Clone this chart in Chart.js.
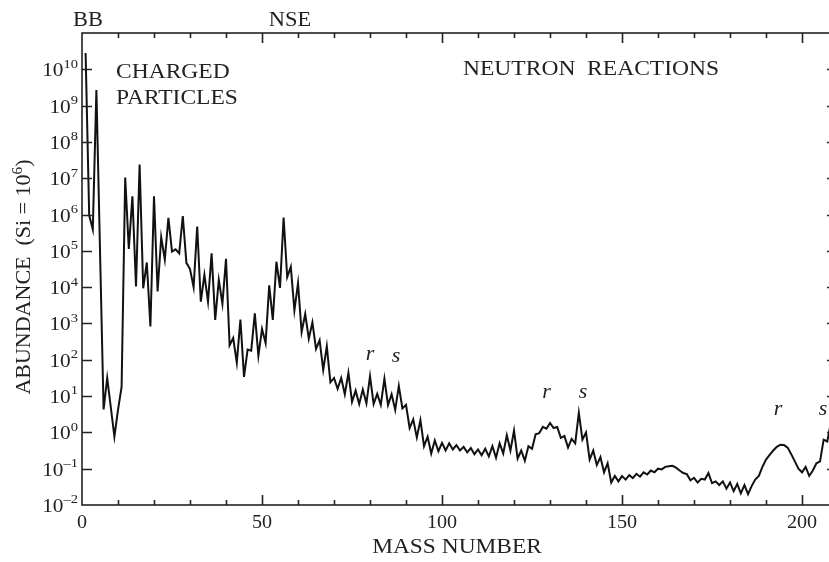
<!DOCTYPE html>
<html>
<head>
<meta charset="utf-8">
<script src="https://cdn.jsdelivr.net/npm/chart.js@4"></script>
<style>
  html, body { margin: 0; padding: 0; background: #fff; overflow: hidden; }
  #wrap { width: 836px; height: 562px; }
</style>
</head>
<body>
<div id="wrap"><canvas id="chart" width="836" height="562"></canvas></div>
<script>
// mass numbers (A = 5 and 8 have no stable nuclei)
const massNumbers = [
  1, 2, 3, 4, 6, 7, 9, 10, 11, 12, 13, 14, 15, 16, 17, 18, 19, 20,
  21, 22, 23, 24, 25, 26, 27, 28, 29, 30, 31, 32, 33, 34, 35, 36, 37, 38, 39, 40,
  41, 42, 43, 44, 45, 46, 47, 48, 49, 50, 51, 52, 53, 54, 55, 56, 57, 58, 59, 60,
  61, 62, 63, 64, 65, 66, 67, 68, 69, 70, 71, 72, 73, 74, 75, 76, 77, 78, 79, 80,
  81, 82, 83, 84, 85, 86, 87, 88, 89, 90, 91, 92, 93, 94, 95, 96, 97, 98, 99, 100,
  101, 102, 103, 104, 105, 106, 107, 108, 109, 110, 111, 112, 113, 114, 115, 116, 117, 118, 119, 120,
  121, 122, 123, 124, 125, 126, 127, 128, 129, 130, 131, 132, 133, 134, 135, 136, 137, 138, 139, 140,
  141, 142, 143, 144, 145, 146, 147, 148, 149, 150, 151, 152, 153, 154, 155, 156, 157, 158, 159, 160,
  161, 162, 163, 164, 165, 166, 167, 168, 169, 170, 171, 172, 173, 174, 175, 176, 177, 178, 179, 180,
  181, 182, 183, 184, 185, 186, 187, 188, 189, 190, 191, 192, 193, 194, 195, 196, 197, 198, 199, 200,
  201, 202, 203, 204, 205, 206, 207, 208
];

// log10 of abundance (Si = 10^6), same order as massNumbers
const logAbundance = [
  10.45, 5.98, 5.59, 9.43, 0.63, 1.5, -0.12, 0.62, 1.25, 7.02, 5.05, 6.5, 4.02, 7.38, 3.97, 4.68, 2.92, 6.5,
  3.88, 5.38, 4.76, 5.91, 4.98, 5.04, 4.93, 5.96, 4.67, 4.5, 4.0, 5.67, 3.6, 4.34, 3.6, 4.93, 3.1, 4.2, 3.54, 4.78,
  2.4, 2.6, 1.92, 3.11, 1.53, 2.28, 2.25, 3.28, 2.11, 2.85, 2.46, 4.05, 3.1, 4.7, 3.98, 5.92, 4.28, 4.56, 3.36, 4.11,
  2.76, 3.26, 2.58, 3.03, 2.3, 2.54, 1.72, 2.37, 1.38, 1.5, 1.2, 1.5, 1.05, 1.64, 0.84, 1.15, 0.78, 1.18, 0.8, 1.55,
  0.78, 1.06, 0.76, 1.48, 0.75, 1.05, 0.62, 1.28, 0.66, 0.76, 0.12, 0.36, -0.14, 0.34, -0.38, -0.12, -0.58, -0.22, -0.52, -0.29,
  -0.5, -0.3, -0.47, -0.35, -0.5, -0.4, -0.55, -0.43, -0.6, -0.47, -0.63, -0.45, -0.66, -0.38, -0.7, -0.3, -0.58, -0.08, -0.5, 0.05,
  -0.72, -0.5, -0.78, -0.38, -0.45, -0.05, -0.02, 0.15, 0.1, 0.26, 0.12, 0.15, -0.15, -0.1, -0.42, -0.18, -0.3, 0.54, -0.2, 0.0,
  -0.75, -0.5, -0.9, -0.68, -1.1, -0.85, -1.38, -1.2, -1.35, -1.2, -1.3, -1.18, -1.26, -1.14, -1.22, -1.1, -1.16, -1.05, -1.1, -1.0,
  -1.02, -0.95, -0.93, -0.92, -0.97, -1.05, -1.12, -1.15, -1.32, -1.25, -1.38, -1.28, -1.3, -1.12, -1.4, -1.35, -1.45, -1.35, -1.55, -1.38,
  -1.62, -1.42, -1.68, -1.45, -1.7, -1.48, -1.3, -1.2, -0.95, -0.75, -0.62, -0.5, -0.4, -0.34, -0.35, -0.42, -0.6, -0.8, -1.0, -1.1,
  -0.95, -1.2, -1.05, -0.85, -0.8, -0.2, -0.25, 0.26
];

const xTickValues = [0, 50, 100, 150, 200];
const yTickExponents = [-2, -1, 0, 1, 2, 3, 4, 5, 6, 7, 8, 9, 10];

const SERIF = '"Liberation Serif", "DejaVu Serif", serif';
const INK = '#222';
const STRETCH = 1.12; // the source lettering is a bit wider than Liberation Serif

// text squeezed/stretched horizontally around its anchor
const wideText = (ctx, text, x, y, align = 'left', sx = STRETCH) => {
  ctx.save();
  ctx.translate(x, y);
  ctx.scale(sx, 1);
  ctx.textAlign = align;
  ctx.fillText(text, 0, 0);
  ctx.restore();
};

const drawPow = (ctx, xRight, yMid, exp, size) => {
  // "10" with a raised exponent, right aligned at xRight
  const supSize = Math.round(size * 0.68);
  const expText = String(exp).replace('-', '\u2013');
  ctx.save();
  ctx.translate(xRight, yMid);
  ctx.scale(STRETCH, 1);
  ctx.font = `${supSize}px ${SERIF}`;
  const supW = ctx.measureText(expText).width;
  ctx.font = `${size}px ${SERIF}`;
  const baseW = ctx.measureText('10').width;
  ctx.textAlign = 'left';
  ctx.textBaseline = 'middle';
  ctx.fillText('10', -supW - baseW, 2);
  ctx.font = `${supSize}px ${SERIF}`;
  ctx.fillText(expText, -supW, -5);
  ctx.restore();
};

const decorPlugin = {
  id: 'decor',
  afterDraw(chart) {
    const { ctx, chartArea: a, scales: { x, y } } = chart;
    ctx.save();
    ctx.strokeStyle = INK;
    ctx.lineWidth = 1.6;
    ctx.strokeRect(a.left, a.top, a.right - a.left, a.bottom - a.top);

    // x ticks, inward on bottom and top
    ctx.beginPath();
    for (let v = 10; v <= 200; v += 10) {
      const px = Math.round(x.getPixelForValue(v)) + 0.5;
      const len = v % 50 === 0 ? 10 : 5;
      ctx.moveTo(px, a.bottom); ctx.lineTo(px, a.bottom - len);
      ctx.moveTo(px, a.top); ctx.lineTo(px, a.top + len);
    }
    // y ticks at decades
    for (let e = -1; e <= 10; e++) {
      const py = Math.round(y.getPixelForValue(Math.pow(10, e))) + 0.5;
      ctx.moveTo(a.left, py); ctx.lineTo(a.left + 10, py);
      ctx.moveTo(a.right, py); ctx.lineTo(a.right - 6, py);
    }
    ctx.stroke();

    ctx.fillStyle = INK;

    // y tick labels
    yTickExponents.forEach(e => {
      drawPow(ctx, a.left - 4, y.getPixelForValue(Math.pow(10, e)), e, 19);
    });

    // x tick labels and title
    ctx.textBaseline = 'middle';
    ctx.font = `19px ${SERIF}`;
    xTickValues.forEach(v => wideText(ctx, String(v), x.getPixelForValue(v), a.bottom + 18, 'center', 1.06));
    ctx.font = `20px ${SERIF}`;
    wideText(ctx, 'MASS NUMBER', 457, 548, 'center', 1.17);

    // y axis title
    ctx.save();
    ctx.translate(25, 277);
    ctx.rotate(-Math.PI / 2);
    ctx.scale(1.1, 1);
    ctx.font = `20px ${SERIF}`;
    const t1 = 'ABUNDANCE  (Si = 10';
    const w1 = ctx.measureText(t1).width;
    ctx.font = `14px ${SERIF}`;
    const w2 = ctx.measureText('6').width;
    ctx.font = `20px ${SERIF}`;
    const w3 = ctx.measureText(')').width;
    const sx = -(w1 + w2 + w3) / 2;
    ctx.textAlign = 'left';
    ctx.textBaseline = 'middle';
    ctx.fillText(t1, sx, 0);
    ctx.font = `14px ${SERIF}`;
    ctx.fillText('6', sx + w1, -7);
    ctx.font = `20px ${SERIF}`;
    ctx.fillText(')', sx + w1 + w2, 0);
    ctx.restore();

    // region labels
    ctx.textBaseline = 'alphabetic';
    ctx.font = `21px ${SERIF}`;
    wideText(ctx, 'CHARGED', 116, 78);
    wideText(ctx, 'PARTICLES', 116, 104);
    wideText(ctx, 'NEUTRON  REACTIONS', 463, 75);
    ctx.font = `20px ${SERIF}`;
    wideText(ctx, 'BB', 88, 26, 'center');
    wideText(ctx, 'NSE', 290, 26, 'center');

    // r / s process peaks
    ctx.font = `italic 21px ${SERIF}`;
    ctx.textBaseline = 'middle';
    [['r', 80, 2.14], ['s', 87.2, 2.08], ['r', 129, 1.09], ['s', 139.2, 1.09], ['r', 193.3, 0.62], ['s', 205.8, 0.62]]
      .forEach(([t, ax, ly]) => {
        wideText(ctx, t, x.getPixelForValue(ax), y.getPixelForValue(Math.pow(10, ly)), 'center', 1.05);
      });
    ctx.restore();
  }
};

new Chart(document.getElementById('chart').getContext('2d'), {
  type: 'line',
  data: {
    datasets: [{
      data: massNumbers.map((m, i) => ({ x: m, y: Math.pow(10, logAbundance[i]) })),
      borderColor: '#111',
      borderWidth: 2,
      pointRadius: 0,
      tension: 0,
      fill: false
    }]
  },
  options: {
    responsive: false,
    animation: false,
    layout: { padding: { top: 33, right: 3, left: 0, bottom: 0 } },
    plugins: { legend: { display: false }, tooltip: { enabled: false } },
    scales: {
      x: {
        type: 'linear',
        min: 0,
        max: 208.6,
        grid: { display: false },
        border: { display: false },
        afterBuildTicks: (scale) => { scale.ticks = xTickValues.map(v => ({ value: v })); },
        afterFit: (scale) => { scale.height = 57; },
        ticks: { display: false }
      },
      y: {
        type: 'logarithmic',
        min: 1e-2,
        max: 1e11,
        grid: { display: false },
        border: { display: false },
        afterFit: (scale) => { scale.width = 82; },
        ticks: { display: false }
      }
    }
  },
  plugins: [decorPlugin]
});
</script>
</body>
</html>
